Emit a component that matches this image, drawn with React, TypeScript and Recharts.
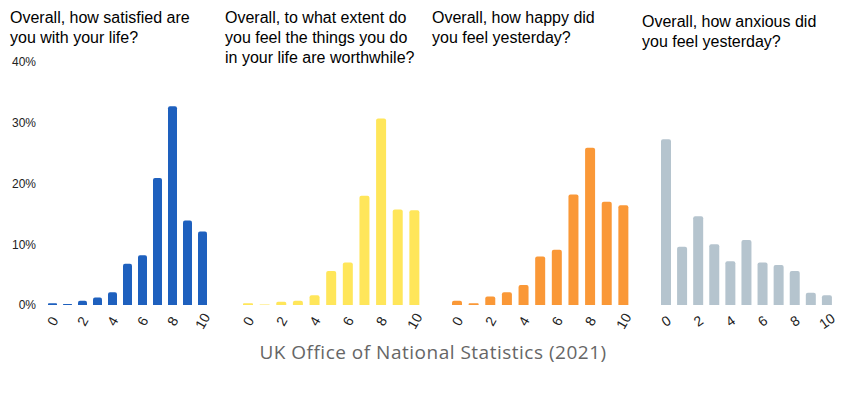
import { BarChart, Bar, XAxis, YAxis } from "recharts";

const scores = ["0", "1", "2", "3", "4", "5", "6", "7", "8", "9", "10"];

const satisfied = [0.3, 0.15, 0.7, 1.25, 2.1, 6.8, 8.2, 20.9, 32.7, 13.9, 12.1];
const worthwhile = [0.3, 0.1, 0.55, 0.7, 1.6, 5.6, 7.0, 18.0, 30.7, 15.7, 15.6];
const happy = [0.7, 0.3, 1.4, 2.1, 3.3, 8.0, 9.1, 18.2, 25.9, 17.0, 16.4];
const anxious = [27.3, 9.6, 14.6, 10.0, 7.2, 10.7, 7.0, 6.6, 5.6, 2.0, 1.6];

const yTicks = [0, 10, 20, 30, 40];

const panels = [
  {
    title: ["Overall, how satisfied are", "you with your life?"],
    values: satisfied,
    color: "#1e60be",
    left: 45,
    width: 165,
    barSize: 9,
    yAxis: true,
    angle: -60,
    titleX: 10,
    titleY: 8,
  },
  {
    title: ["Overall, to what extent do", "you feel the things you do", "in your life are worthwhile?"],
    values: worthwhile,
    color: "#ffe65a",
    left: 240,
    width: 183,
    barSize: 10,
    yAxis: false,
    angle: -60,
    titleX: 225,
    titleY: 8,
  },
  {
    title: ["Overall, how happy did", "you feel yesterday?"],
    values: happy,
    color: "#fa9837",
    left: 449,
    width: 183,
    barSize: 10,
    yAxis: false,
    angle: -60,
    titleX: 432,
    titleY: 8,
  },
  {
    title: ["Overall, how anxious did", "you feel yesterday?"],
    values: anxious,
    color: "#b5c4ce",
    left: 658,
    width: 177,
    barSize: 10,
    yAxis: false,
    angle: -35,
    titleX: 642,
    titleY: 12,
  },
];

function makeTick(angle: number) {
  return (props: any) => {
    const { x, payload } = props;
    const y = 321;
    return (
      <text
        x={x}
        y={y}
        textAnchor="middle"
        dominantBaseline="central"
        fontSize={14}
        fill="#222"
        fontFamily="'Liberation Sans', Arial, sans-serif"
        transform={`rotate(${angle}, ${x}, ${y})`}
      >
        {payload.value}
      </text>
    );
  };
}

function Panel({ p }: { p: (typeof panels)[number] }) {
  const data = scores.map((s, i) => ({ score: s, value: p.values[i] }));
  const axisW = p.yAxis ? 45 : 0;
  const pad = 7;
  return (
    <div style={{ position: "absolute", left: p.left - axisW, top: 0 }}>
      <BarChart
        width={p.width + axisW + pad}
        height={340}
        data={data}
        margin={{ top: 62, right: pad, bottom: 0, left: 0 }}
      >
        <XAxis
          dataKey="score"
          axisLine={false}
          tickLine={false}
          interval={1}
          height={35}
          tick={makeTick(p.angle)}
        />
        <YAxis
          hide={!p.yAxis}
          width={45}
          domain={[0, 40]}
          ticks={yTicks}
          axisLine={false}
          tickLine={false}
          tickSize={0}
          tickMargin={9}
          tickFormatter={(v: number) => `${v}%`}
          tick={{ fontSize: 12, fill: "#222", fontFamily: "'Liberation Sans', Arial, sans-serif" }}
        />
        <Bar
          dataKey="value"
          fill={p.color}
          barSize={p.barSize}
          radius={[2, 2, 0, 0]}
          isAnimationActive={false}
        />
      </BarChart>
    </div>
  );
}

export default function App() {
  return (
    <div
      style={{
        position: "absolute",
        left: 0,
        top: 0,
        width: 842,
        height: 397,
        background: "#fff",
        overflow: "hidden",
      }}
    >
      {panels.map((p, i) => (
        <div
          key={"t" + i}
          style={{
            position: "absolute",
            left: p.titleX,
            top: p.titleY,
            fontFamily: "'Liberation Sans', Arial, sans-serif",
            fontSize: 16,
            lineHeight: "20px",
            color: "#000",
            whiteSpace: "nowrap",
          }}
        >
          {p.title.map((line, j) => (
            <div key={j}>{line}</div>
          ))}
        </div>
      ))}
      {panels.map((p, i) => (
        <Panel key={i} p={p} />
      ))}
      <div
        style={{
          position: "absolute",
          left: 0,
          width: 866,
          top: 339,
          textAlign: "center",
          fontFamily: "'Open Sans', sans-serif",
          fontSize: 19,
          letterSpacing: 0.5,
          color: "#666",
        }}
      >
        UK Office of National Statistics (2021)
      </div>
    </div>
  );
}
